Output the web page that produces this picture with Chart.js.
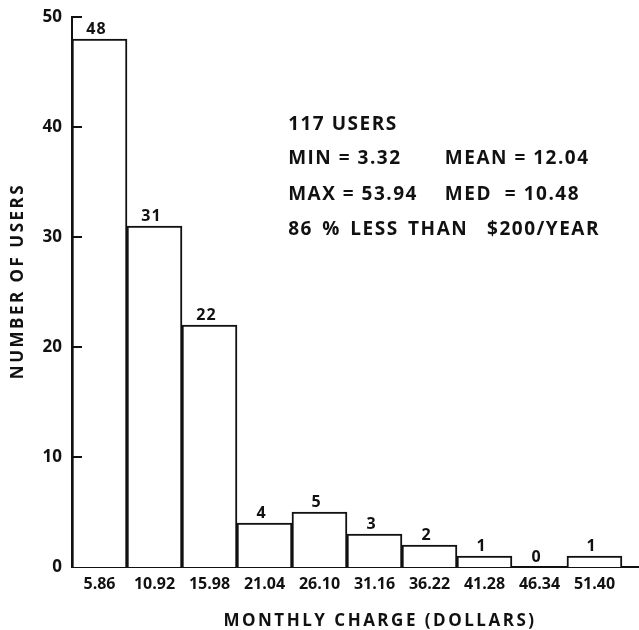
<!DOCTYPE html>
<html>
<head>
<meta charset="utf-8">
<script src="https://cdn.jsdelivr.net/npm/chart.js@4/dist/chart.umd.min.js"></script>
<style>
    html, body { margin: 0; padding: 0; background: #fff; }
    #caixa { width: 639px; height: 630px; }
</style>
</head>
<body>
<div id="caixa"><canvas id="grafico_cobranca"></canvas></div>
<script>
    // faixas de cobranca mensal (centro de cada classe) e numero de usuarios
    const faixas = ['5.86', '10.92', '15.98', '21.04', '26.10', '31.16', '36.22', '41.28', '46.34', '51.40'];
    const usuarios = [48, 31, 22, 4, 5, 3, 2, 1, 0, 1];
    const marcas_y = [0, 10, 20, 30, 40, 50];

    const resumo_esq = ['117 USERS', 'MIN = 3.32', 'MAX = 53.94', '86 % LESS THAN  $200/YEAR'];
    const resumo_dir = ['', 'MEAN = 12.04', 'MED  = 10.48', ''];

    const titulo_x = 'MONTHLY CHARGE (DOLLARS)';
    const titulo_y = 'NUMBER OF USERS';

    const fonte = '"Open Sans", "DejaVu Sans", sans-serif';

    const pontos = usuarios.map((v, i) => ({ x: i + 0.5, y: v }));

    const textos = {
        id: 'textos',
        afterDatasetsDraw(chart) {
            const ctx = chart.ctx;
            const meta = chart.getDatasetMeta(0);
            ctx.save();
            ctx.fillStyle = '#111';
            ctx.font = 'bold 16px ' + fonte;
            ctx.textAlign = 'center';
            ctx.textBaseline = 'middle';
            ctx.letterSpacing = '1px';
            meta.data.forEach((barra, i) => {
                ctx.fillText(String(usuarios[i]), barra.x - 3, barra.y - 10);
            });
            ctx.restore();
        },
        afterDraw(chart) {
            const ctx = chart.ctx;
            const area = chart.chartArea;
            const sx = chart.scales.x;
            const sy = chart.scales.y;
            ctx.save();
            ctx.strokeStyle = '#111';
            ctx.lineWidth = 2;
            // tracinhos do eixo y para dentro
            marcas_y.forEach(v => {
                if (v === 0) return;
                const py = Math.round(sy.getPixelForValue(v));
                ctx.beginPath();
                ctx.moveTo(area.left, py);
                ctx.lineTo(area.left + 10, py);
                ctx.stroke();
            });

            ctx.fillStyle = '#111';
            ctx.textBaseline = 'middle';

            // quadro de resumo
            ctx.font = 'bold 19px ' + fonte;
            ctx.letterSpacing = '1.5px';
            ctx.textAlign = 'left';
            const linhas_y = [40.2, 37.1, 33.9, 30.7];
            resumo_esq.forEach((t, i) => {
                ctx.wordSpacing = i === 3 ? '3px' : '0px';
                ctx.fillText(t, sx.getPixelForValue(3.93), sy.getPixelForValue(linhas_y[i]));
            });
            ctx.wordSpacing = '0px';
            resumo_dir.forEach((t, i) => {
                if (t) ctx.fillText(t, sx.getPixelForValue(6.78), sy.getPixelForValue(linhas_y[i]));
            });

            // titulos dos eixos
            ctx.font = 'bold 17px ' + fonte;
            ctx.letterSpacing = '2.5px';
            ctx.textAlign = 'center';
            ctx.fillText(titulo_x, sx.getPixelForValue(5.6), 621);

            ctx.translate(18, sy.getPixelForValue(26));
            ctx.rotate(-Math.PI / 2);
            ctx.fillText(titulo_y, 0, 0);
            ctx.restore();
        }
    };

    new Chart(document.getElementById('grafico_cobranca'), {
        type: 'bar',
        data: {
            datasets: [{
                data: pontos,
                backgroundColor: '#fff',
                borderColor: '#111',
                borderWidth: 2,
                barPercentage: 1,
                categoryPercentage: 1
            }]
        },
        options: {
            responsive: true,
            maintainAspectRatio: false,
            animation: false,
            layout: { padding: { top: 17, right: 0, left: 0, bottom: 0 } },
            plugins: {
                legend: { display: false },
                tooltip: { enabled: false }
            },
            scales: {
                x: {
                    type: 'linear',
                    min: 0,
                    max: 10.31,
                    offset: false,
                    grid: { display: false, drawTicks: false, offset: false },
                    border: { display: true, color: '#111', width: 2 },
                    afterBuildTicks: escala => {
                        escala.ticks = faixas.map((f, i) => ({ value: i + 0.5 }));
                    },
                    afterFit: escala => {
                        escala.height = 63;
                        escala.paddingLeft = 0;
                        escala.paddingRight = 0;
                    },
                    ticks: {
                        autoSkip: false,
                        maxRotation: 0,
                        padding: 8,
                        color: '#111',
                        font: { family: fonte, size: 16, weight: 'bold' },
                        callback: (valor, i) => faixas[i]
                    }
                },
                y: {
                    min: 0,
                    max: 50,
                    grid: { display: false, drawTicks: false },
                    border: { display: true, color: '#111', width: 2 },
                    afterBuildTicks: escala => {
                        escala.ticks = marcas_y.map(v => ({ value: v }));
                    },
                    afterFit: escala => {
                        escala.width = 72;
                        escala.paddingTop = 0;
                        escala.paddingBottom = 0;
                    },
                    ticks: {
                        padding: 10,
                        color: '#111',
                        font: { family: fonte, size: 17, weight: 'bold' }
                    }
                }
            }
        },
        plugins: [textos]
    });
</script>
</body>
</html>
